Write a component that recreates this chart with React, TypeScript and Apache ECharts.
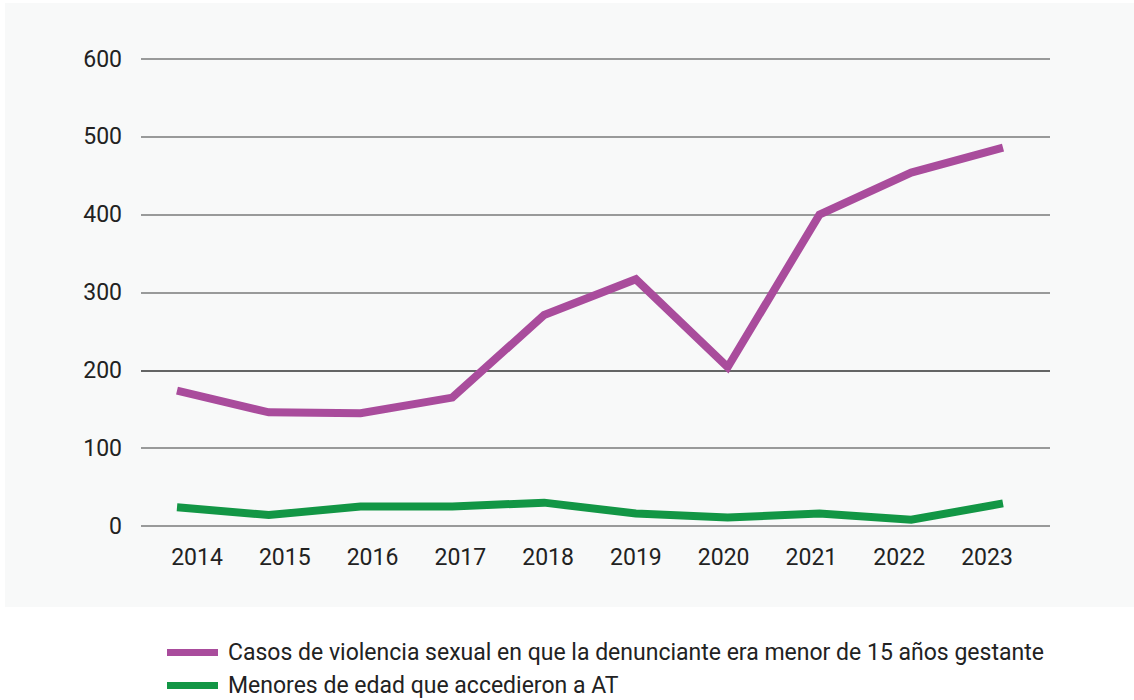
import React, { useEffect, useRef } from "react";
import * as echarts from "echarts";

const years = ["2014", "2015", "2016", "2017", "2018", "2019", "2020", "2021", "2022", "2023"];
const casosViolencia = [174, 146, 145, 165, 271, 317, 204, 400, 454, 486];
const menoresAT = [24, 14, 25, 25, 30, 16, 11, 16, 8, 29];
const seriesNames = [
  "Casos de violencia sexual en que la denunciante era menor de 15 años gestante",
  "Menores de edad que accedieron a AT",
];
const yTicks = { min: 0, max: 600, interval: 100 };

const PURPLE = "#a94c9c";
const GREEN = "#129645";
const TEXT = "#222222";
const FONT = "Roboto";
const FS = 23;

export default function App() {
  const ref = useRef<HTMLDivElement>(null);

  useEffect(() => {
    document.body.style.margin = "0";
    if (!ref.current) return;
    const chart = echarts.init(ref.current, null, { renderer: "svg" });
    const gridTop = 59;
    const gridBottom = 174;
    const legendBase = {
      orient: "horizontal",
      left: 167,
      icon: "rect",
      itemWidth: 51,
      itemHeight: 7,
      padding: [2, 5, 2, 0],
      textStyle: { fontSize: FS, color: TEXT, fontFamily: FONT, padding: [0, 0, 0, 5] },
    };
    chart.setOption({
      animation: false,
      backgroundColor: "#ffffff",
      textStyle: { fontFamily: FONT },
      graphic: [
        {
          type: "rect",
          z: -10,
          silent: true,
          shape: { x: 5, y: 3, width: 1129, height: 604 },
          style: { fill: "#f8f9f9" },
        },
      ],
      legend: [
        { ...legendBase, top: 639, data: [seriesNames[0]] },
        { ...legendBase, top: 672, data: [seriesNames[1]] },
      ],
      grid: [
        { left: 141, right: 84, top: gridTop, bottom: gridBottom },
        { left: 177, right: 131, top: gridTop, bottom: gridBottom },
        { left: 197, right: 147, top: gridTop, bottom: gridBottom },
      ],
      xAxis: [
        { gridIndex: 0, type: "category", data: years, show: false },
        { gridIndex: 1, type: "category", data: years, boundaryGap: false, show: false },
        {
          gridIndex: 2,
          type: "category",
          data: years,
          boundaryGap: false,
          axisLine: { show: false },
          axisTick: { show: false },
          axisLabel: { fontSize: FS, color: TEXT, margin: 20, fontFamily: FONT },
        },
      ],
      yAxis: [
        {
          gridIndex: 0,
          type: "value",
          min: yTicks.min,
          max: yTicks.max,
          interval: yTicks.interval,
          axisLine: { show: false },
          axisTick: { show: false },
          axisLabel: { fontSize: FS, color: TEXT, margin: 19, fontFamily: FONT },
          splitLine: {
            lineStyle: {
              color: ["#7a7a7a", "#7a7a7a", "#333333", "#7a7a7a", "#7a7a7a", "#7a7a7a", "#7a7a7a"],
              width: 1.5,
            },
          },
        },
        { gridIndex: 1, type: "value", min: yTicks.min, max: yTicks.max, interval: yTicks.interval, show: false, splitLine: { show: false } },
        { gridIndex: 2, type: "value", min: yTicks.min, max: yTicks.max, interval: yTicks.interval, show: false, splitLine: { show: false } },
      ],
      series: [
        {
          name: seriesNames[0],
          type: "line",
          xAxisIndex: 1,
          yAxisIndex: 1,
          data: casosViolencia,
          showSymbol: false,
          symbol: "none",
          lineStyle: { color: PURPLE, width: 8, join: "miter" },
          itemStyle: { color: PURPLE },
        },
        {
          name: seriesNames[1],
          type: "line",
          xAxisIndex: 1,
          yAxisIndex: 1,
          data: menoresAT,
          showSymbol: false,
          symbol: "none",
          lineStyle: { color: GREEN, width: 8, join: "miter" },
          itemStyle: { color: GREEN },
        },
      ],
    });
    return () => chart.dispose();
  }, []);

  return <div ref={ref} style={{ width: 1134, height: 700 }} />;
}
